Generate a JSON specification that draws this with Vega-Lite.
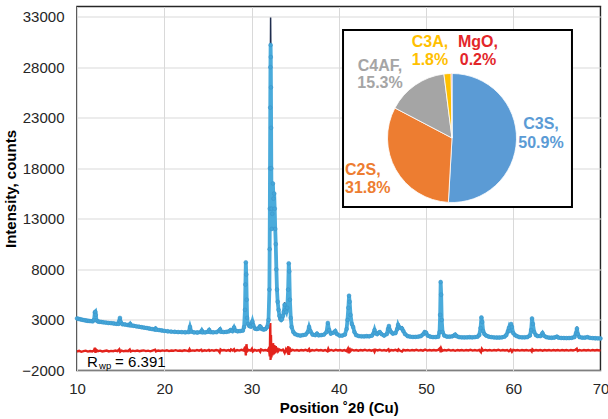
{
  "$schema": "https://vega.github.io/schema/vega-lite/v6.json",
  "width": 523.5,
  "height": 364,
  "autosize": "none",
  "padding": {"left": 77, "top": 6.5, "right": 7.5, "bottom": 48.5},
  "background": "white",
  "config": {
    "view": {"stroke": "#262626", "strokeWidth": 1.5},
    "font": "Liberation Sans",
    "text": {"font": "Liberation Sans"}
  },
  "datasets": {
    "xrd": [
      {"t":10.0,"o":3150,"c":3150},{"t":10.2,"o":3100,"c":3100},{"t":10.4,"o":3060,"c":3060},{"t":10.6,"o":3020,"c":3020},
      {"t":10.8,"o":2980,"c":2980},{"t":11.0,"o":2950,"c":2950},{"t":11.2,"o":2920,"c":2920},{"t":11.4,"o":2900,"c":2900},
      {"t":11.6,"o":2880,"c":2880},{"t":11.8,"o":2870,"c":2870},{"t":11.95,"o":3000,"c":3000},{"t":12.05,"o":3750,"c":3800},
      {"t":12.1,"o":3800,"c":3850},{"t":12.15,"o":3500,"c":3450},{"t":12.25,"o":2950,"c":2950},{"t":12.4,"o":2850,"c":2850},
      {"t":12.6,"o":2820,"c":2820},{"t":12.8,"o":2800,"c":2800},{"t":13.0,"o":2770,"c":2770},{"t":13.3,"o":2740,"c":2740},
      {"t":13.6,"o":2700,"c":2700},{"t":13.9,"o":2680,"c":2680},{"t":14.2,"o":2650,"c":2650},{"t":14.5,"o":2620,"c":2620},
      {"t":14.75,"o":2620,"c":2620},{"t":14.85,"o":2900,"c":2950},{"t":14.92,"o":3200,"c":3180},{"t":15.0,"o":2800,"c":2800},
      {"t":15.2,"o":2580,"c":2580},{"t":15.5,"o":2550,"c":2550},{"t":15.8,"o":2500,"c":2500},{"t":16.0,"o":2480,"c":2480},
      {"t":16.1,"o":2600,"c":2650},{"t":16.2,"o":2460,"c":2460},{"t":16.5,"o":2420,"c":2420},{"t":16.8,"o":2370,"c":2370},
      {"t":17.1,"o":2330,"c":2330},{"t":17.4,"o":2280,"c":2280},{"t":17.7,"o":2240,"c":2240},{"t":18.0,"o":2200,"c":2200},
      {"t":18.3,"o":2150,"c":2150},{"t":18.6,"o":2100,"c":2100},{"t":18.9,"o":2060,"c":2060},{"t":19.0,"o":2150,"c":2220},
      {"t":19.1,"o":2040,"c":2040},{"t":19.4,"o":2000,"c":2000},{"t":19.7,"o":1960,"c":1960},{"t":20.0,"o":1920,"c":1920},
      {"t":20.4,"o":1880,"c":1880},{"t":20.8,"o":1850,"c":1850},{"t":21.2,"o":1830,"c":1830},{"t":21.6,"o":1800,"c":1800},
      {"t":22.0,"o":1790,"c":1790},{"t":22.4,"o":1780,"c":1780},{"t":22.8,"o":1800,"c":1800},{"t":22.95,"o":2300,"c":2380},
      {"t":23.1,"o":1850,"c":1850},{"t":23.4,"o":1770,"c":1770},{"t":23.8,"o":1760,"c":1760},{"t":24.2,"o":1800,"c":1800},
      {"t":24.3,"o":1950,"c":2050},{"t":24.4,"o":1780,"c":1780},{"t":24.7,"o":1770,"c":1770},{"t":25.0,"o":1830,"c":1830},
      {"t":25.15,"o":2000,"c":2020},{"t":25.3,"o":1800,"c":1800},{"t":25.6,"o":1780,"c":1780},{"t":26.0,"o":1790,"c":1790},
      {"t":26.3,"o":1950,"c":1950},{"t":26.4,"o":2050,"c":2250},{"t":26.5,"o":1830,"c":1830},{"t":26.8,"o":1800,"c":1800},
      {"t":27.1,"o":1820,"c":1820},{"t":27.4,"o":1870,"c":1870},{"t":27.6,"o":2000,"c":2000},{"t":27.8,"o":1900,"c":1900},
      {"t":28.0,"o":2250,"c":2280},{"t":28.15,"o":1950,"c":1950},{"t":28.4,"o":1880,"c":1880},{"t":28.7,"o":1900,"c":1900},
      {"t":29.0,"o":1950,"c":1950},{"t":29.15,"o":2300,"c":2300},{"t":29.25,"o":4000,"c":4100},{"t":29.3,"o":6500,"c":6500},
      {"t":29.35,"o":8700,"c":8800},{"t":29.4,"o":7500,"c":7400},{"t":29.45,"o":5000,"c":5000},{"t":29.5,"o":3200,"c":3200},
      {"t":29.6,"o":2600,"c":2600},{"t":29.75,"o":2400,"c":2400},{"t":29.9,"o":2350,"c":2350},{"t":30.05,"o":2700,"c":2700},
      {"t":30.1,"o":2850,"c":2900},{"t":30.2,"o":2500,"c":2500},{"t":30.4,"o":2150,"c":2150},{"t":30.6,"o":2100,"c":2100},
      {"t":30.8,"o":2150,"c":2150},{"t":30.95,"o":2350,"c":2350},{"t":31.05,"o":2300,"c":2450},{"t":31.2,"o":2100,"c":2100},
      {"t":31.4,"o":2050,"c":2050},{"t":31.6,"o":2100,"c":2100},{"t":31.8,"o":2300,"c":2300},{"t":31.95,"o":3000,"c":3000},
      {"t":32.05,"o":6000,"c":6200},{"t":32.08,"o":10000,"c":10300},{"t":32.1,"o":14000,"c":14500},{"t":32.12,"o":18000,"c":18800},
      {"t":32.15,"o":24000,"c":25000},{"t":32.17,"o":28000,"c":29500},{"t":32.19,"o":30200,"c":32900},{"t":32.21,"o":29000,"c":30500},
      {"t":32.23,"o":26000,"c":27000},{"t":32.25,"o":22000,"c":22500},{"t":32.27,"o":18000,"c":18500},{"t":32.3,"o":14000,"c":14000},
      {"t":32.32,"o":12000,"c":12000},{"t":32.38,"o":13500,"c":13500},{"t":32.45,"o":16500,"c":16500},{"t":32.52,"o":15000,"c":15000},
      {"t":32.6,"o":15500,"c":15500},{"t":32.66,"o":14000,"c":14000},{"t":32.72,"o":12000,"c":12000},{"t":32.78,"o":10500,"c":10500},
      {"t":32.85,"o":8000,"c":8000},{"t":32.92,"o":6000,"c":6000},{"t":33.0,"o":4800,"c":4800},{"t":33.1,"o":4000,"c":4000},
      {"t":33.2,"o":3400,"c":3400},{"t":33.3,"o":3100,"c":3100},{"t":33.4,"o":3000,"c":3000},{"t":33.5,"o":3100,"c":3100},
      {"t":33.6,"o":3400,"c":3400},{"t":33.7,"o":3800,"c":3800},{"t":33.8,"o":4500,"c":4750},{"t":33.9,"o":4000,"c":4000},
      {"t":34.0,"o":3800,"c":3800},{"t":34.1,"o":4200,"c":4200},{"t":34.2,"o":6000,"c":6000},{"t":34.27,"o":8600,"c":8700},
      {"t":34.33,"o":7800,"c":7800},{"t":34.4,"o":5000,"c":5000},{"t":34.5,"o":3200,"c":3200},{"t":34.6,"o":2300,"c":2300},
      {"t":34.8,"o":1800,"c":1800},{"t":35.0,"o":1600,"c":1600},{"t":35.3,"o":1500,"c":1500},{"t":35.6,"o":1450,"c":1450},
      {"t":35.9,"o":1500,"c":1500},{"t":36.2,"o":1550,"c":1550},{"t":36.45,"o":1800,"c":1800},{"t":36.6,"o":2300,"c":2300},
      {"t":36.75,"o":1900,"c":1900},{"t":37.0,"o":1550,"c":1550},{"t":37.3,"o":1500,"c":1500},{"t":37.5,"o":1650,"c":1650},
      {"t":37.7,"o":1480,"c":1480},{"t":38.0,"o":1500,"c":1500},{"t":38.3,"o":1550,"c":1550},{"t":38.6,"o":1800,"c":1800},
      {"t":38.75,"o":2700,"c":2750},{"t":38.9,"o":2000,"c":2000},{"t":39.1,"o":1650,"c":1650},{"t":39.4,"o":1750,"c":1750},
      {"t":39.6,"o":1900,"c":1900},{"t":39.8,"o":1600,"c":1600},{"t":40.1,"o":1450,"c":1450},{"t":40.4,"o":1450,"c":1450},
      {"t":40.7,"o":1550,"c":1550},{"t":40.9,"o":2100,"c":2100},{"t":41.0,"o":3000,"c":3000},{"t":41.1,"o":4200,"c":4200},
      {"t":41.18,"o":5400,"c":5400},{"t":41.25,"o":4800,"c":4800},{"t":41.35,"o":3500,"c":3500},{"t":41.5,"o":2600,"c":2600},
      {"t":41.65,"o":2300,"c":2300},{"t":41.8,"o":1800,"c":1800},{"t":42.0,"o":1500,"c":1500},{"t":42.3,"o":1400,"c":1400},
      {"t":42.6,"o":1380,"c":1380},{"t":42.9,"o":1370,"c":1370},{"t":43.2,"o":1400,"c":1400},{"t":43.5,"o":1380,"c":1380},
      {"t":43.8,"o":1450,"c":1450},{"t":44.0,"o":1700,"c":1700},{"t":44.1,"o":2000,"c":2150},{"t":44.2,"o":1700,"c":1700},
      {"t":44.4,"o":1600,"c":1600},{"t":44.6,"o":1750,"c":1750},{"t":44.7,"o":1800,"c":1800},{"t":44.9,"o":1600,"c":1600},
      {"t":45.2,"o":1450,"c":1450},{"t":45.5,"o":1600,"c":1600},{"t":45.65,"o":2100,"c":2100},{"t":45.75,"o":2400,"c":2450},
      {"t":45.85,"o":2000,"c":2000},{"t":46.0,"o":1800,"c":1800},{"t":46.2,"o":1650,"c":1650},{"t":46.5,"o":1700,"c":1700},
      {"t":46.7,"o":2100,"c":2100},{"t":46.8,"o":2500,"c":2500},{"t":46.9,"o":2300,"c":2300},{"t":47.1,"o":2200,"c":2200},
      {"t":47.25,"o":2150,"c":2300},{"t":47.4,"o":1900,"c":1900},{"t":47.6,"o":1600,"c":1600},{"t":47.9,"o":1400,"c":1400},
      {"t":48.2,"o":1350,"c":1350},{"t":48.5,"o":1320,"c":1320},{"t":48.8,"o":1330,"c":1330},{"t":49.1,"o":1350,"c":1350},
      {"t":49.4,"o":1400,"c":1400},{"t":49.7,"o":1600,"c":1600},{"t":49.85,"o":1800,"c":1800},{"t":50.0,"o":1750,"c":1750},
      {"t":50.2,"o":1450,"c":1450},{"t":50.5,"o":1350,"c":1350},{"t":50.8,"o":1300,"c":1300},{"t":51.1,"o":1300,"c":1300},
      {"t":51.4,"o":1350,"c":1350},{"t":51.55,"o":1800,"c":1800},{"t":51.62,"o":3500,"c":3500},{"t":51.68,"o":6750,"c":6750},
      {"t":51.74,"o":5500,"c":5500},{"t":51.8,"o":3000,"c":3000},{"t":51.9,"o":1800,"c":1800},{"t":52.1,"o":1450,"c":1450},
      {"t":52.4,"o":1350,"c":1350},{"t":52.7,"o":1350,"c":1350},{"t":53.0,"o":1380,"c":1380},{"t":53.2,"o":1450,"c":1450},
      {"t":53.35,"o":1550,"c":1550},{"t":53.5,"o":1400,"c":1400},{"t":53.8,"o":1300,"c":1300},{"t":54.1,"o":1280,"c":1280},
      {"t":54.4,"o":1270,"c":1270},{"t":54.7,"o":1280,"c":1280},{"t":55.0,"o":1300,"c":1300},{"t":55.3,"o":1280,"c":1280},
      {"t":55.6,"o":1300,"c":1300},{"t":55.9,"o":1350,"c":1350},{"t":56.1,"o":1500,"c":1500},{"t":56.25,"o":2200,"c":2200},
      {"t":56.35,"o":3250,"c":3250},{"t":56.45,"o":2800,"c":2800},{"t":56.55,"o":1900,"c":1900},{"t":56.7,"o":1600,"c":1600},
      {"t":56.9,"o":1450,"c":1450},{"t":57.2,"o":1350,"c":1350},{"t":57.5,"o":1300,"c":1300},{"t":57.8,"o":1270,"c":1270},
      {"t":58.1,"o":1260,"c":1260},{"t":58.4,"o":1260,"c":1260},{"t":58.7,"o":1280,"c":1280},{"t":59.0,"o":1350,"c":1350},
      {"t":59.2,"o":1500,"c":1500},{"t":59.4,"o":1900,"c":1900},{"t":59.5,"o":2200,"c":2200},{"t":59.6,"o":1900,"c":1900},
      {"t":59.75,"o":2600,"c":2600},{"t":59.85,"o":2300,"c":2300},{"t":60.0,"o":1700,"c":1700},{"t":60.2,"o":1500,"c":1500},
      {"t":60.4,"o":1400,"c":1400},{"t":60.7,"o":1300,"c":1300},{"t":61.0,"o":1280,"c":1280},{"t":61.3,"o":1280,"c":1280},
      {"t":61.6,"o":1300,"c":1300},{"t":61.9,"o":1450,"c":1450},{"t":62.05,"o":2000,"c":2000},{"t":62.15,"o":3150,"c":3150},
      {"t":62.25,"o":2600,"c":2600},{"t":62.4,"o":1800,"c":1800},{"t":62.6,"o":1500,"c":1500},{"t":62.8,"o":1400,"c":1400},
      {"t":63.1,"o":1400,"c":1400},{"t":63.35,"o":1700,"c":1700},{"t":63.5,"o":1450,"c":1450},{"t":63.8,"o":1300,"c":1300},
      {"t":64.1,"o":1250,"c":1250},{"t":64.4,"o":1240,"c":1240},{"t":64.7,"o":1260,"c":1260},{"t":65.0,"o":1350,"c":1350},
      {"t":65.2,"o":1250,"c":1250},{"t":65.5,"o":1220,"c":1220},{"t":65.8,"o":1210,"c":1210},{"t":66.1,"o":1200,"c":1200},
      {"t":66.4,"o":1210,"c":1210},{"t":66.7,"o":1230,"c":1230},{"t":67.0,"o":1300,"c":1300},{"t":67.2,"o":1700,"c":1700},
      {"t":67.3,"o":2150,"c":2350},{"t":67.4,"o":1600,"c":1600},{"t":67.6,"o":1300,"c":1300},{"t":67.9,"o":1250,"c":1250},
      {"t":68.2,"o":1250,"c":1250},{"t":68.5,"o":1300,"c":1300},{"t":68.8,"o":1230,"c":1230},{"t":69.1,"o":1200,"c":1200},
      {"t":69.4,"o":1190,"c":1190},{"t":69.7,"o":1180,"c":1180},{"t":70.0,"o":1170,"c":1170}
    ],
    "diff": [
      {"t":10.0,"d":-120},{"t":10.25,"d":-60},{"t":10.5,"d":-150},{"t":10.75,"d":-90},{"t":11.0,"d":-40},{"t":11.25,"d":-130},
      {"t":11.5,"d":-80},{"t":11.75,"d":-110},{"t":11.95,"d":-20},{"t":12.05,"d":250},{"t":12.12,"d":-250},{"t":12.2,"d":60},
      {"t":12.4,"d":-90},{"t":12.65,"d":-40},{"t":12.9,"d":-120},{"t":13.15,"d":-70},{"t":13.4,"d":-30},{"t":13.65,"d":-110},
      {"t":13.9,"d":-60},{"t":14.15,"d":-90},{"t":14.4,"d":-20},{"t":14.65,"d":-80},{"t":14.85,"d":100},{"t":14.95,"d":-150},
      {"t":15.1,"d":-40},{"t":15.35,"d":-100},{"t":15.6,"d":-50},{"t":15.85,"d":-90},{"t":16.05,"d":80},{"t":16.15,"d":-120},
      {"t":16.4,"d":-40},{"t":16.65,"d":-80},{"t":16.9,"d":-20},{"t":17.15,"d":-90},{"t":17.4,"d":-50},{"t":17.65,"d":-10},
      {"t":17.9,"d":-80},{"t":18.15,"d":-40},{"t":18.4,"d":-100},{"t":18.65,"d":-30},{"t":18.95,"d":60},{"t":19.05,"d":-110},
      {"t":19.3,"d":-20},{"t":19.55,"d":-70},{"t":19.8,"d":-10},{"t":20.05,"d":-60},{"t":20.3,"d":0},{"t":20.55,"d":-80},
      {"t":20.8,"d":-30},{"t":21.05,"d":-50},{"t":21.3,"d":10},{"t":21.55,"d":-60},{"t":21.8,"d":-20},{"t":22.05,"d":-70},
      {"t":22.3,"d":0},{"t":22.55,"d":-40},{"t":22.8,"d":-80},{"t":22.9,"d":100},{"t":23.0,"d":-60},{"t":23.25,"d":-10},
      {"t":23.5,"d":-50},{"t":23.75,"d":20},{"t":24.0,"d":-40},{"t":24.25,"d":60},{"t":24.35,"d":-80},{"t":24.6,"d":0},
      {"t":24.85,"d":-50},{"t":25.1,"d":40},{"t":25.2,"d":-60},{"t":25.45,"d":10},{"t":25.7,"d":-40},{"t":25.95,"d":20},
      {"t":26.2,"d":-30},{"t":26.35,"d":-200},{"t":26.45,"d":80},{"t":26.6,"d":-20},{"t":26.85,"d":30},{"t":27.1,"d":-40},
      {"t":27.35,"d":20},{"t":27.55,"d":-60},{"t":27.65,"d":80},{"t":27.85,"d":-20},{"t":28.0,"d":100},{"t":28.1,"d":-80},
      {"t":28.35,"d":20},{"t":28.6,"d":-30},{"t":28.85,"d":40},{"t":29.1,"d":-20},{"t":29.28,"d":350},{"t":29.35,"d":-500},
      {"t":29.42,"d":600},{"t":29.5,"d":-100},{"t":29.65,"d":40},{"t":29.9,"d":-30},{"t":30.05,"d":150},{"t":30.15,"d":-120},
      {"t":30.35,"d":30},{"t":30.6,"d":-40},{"t":30.85,"d":20},{"t":31.0,"d":-150},{"t":31.1,"d":90},{"t":31.35,"d":-20},
      {"t":31.6,"d":30},{"t":31.85,"d":-40},{"t":32.0,"d":200},{"t":32.1,"d":-600},{"t":32.15,"d":2700},{"t":32.19,"d":-950},
      {"t":32.23,"d":1500},{"t":32.28,"d":-700},{"t":32.33,"d":600},{"t":32.4,"d":-500},{"t":32.47,"d":700},{"t":32.55,"d":-400},
      {"t":32.62,"d":500},{"t":32.7,"d":-300},{"t":32.78,"d":400},{"t":32.85,"d":-200},{"t":32.95,"d":250},{"t":33.05,"d":-100},
      {"t":33.2,"d":80},{"t":33.4,"d":-20},{"t":33.6,"d":60},{"t":33.8,"d":-250},{"t":33.95,"d":100},{"t":34.1,"d":-150},
      {"t":34.22,"d":400},{"t":34.3,"d":-450},{"t":34.38,"d":250},{"t":34.5,"d":-60},{"t":34.7,"d":40},{"t":34.95,"d":-30},
      {"t":35.2,"d":20},{"t":35.45,"d":-40},{"t":35.7,"d":30},{"t":35.95,"d":-20},{"t":36.2,"d":40},{"t":36.45,"d":-50},
      {"t":36.6,"d":120},{"t":36.7,"d":-80},{"t":36.95,"d":20},{"t":37.2,"d":-30},{"t":37.45,"d":40},{"t":37.7,"d":-20},
      {"t":37.95,"d":30},{"t":38.2,"d":-40},{"t":38.45,"d":20},{"t":38.7,"d":-100},{"t":38.8,"d":150},{"t":38.9,"d":-40},
      {"t":39.15,"d":30},{"t":39.4,"d":-50},{"t":39.65,"d":40},{"t":39.9,"d":-20},{"t":40.15,"d":30},{"t":40.4,"d":-40},
      {"t":40.65,"d":20},{"t":40.9,"d":-80},{"t":41.05,"d":150},{"t":41.15,"d":-300},{"t":41.22,"d":250},{"t":41.32,"d":-100},
      {"t":41.5,"d":60},{"t":41.75,"d":-30},{"t":42.0,"d":20},{"t":42.25,"d":-40},{"t":42.5,"d":30},{"t":42.75,"d":-20},
      {"t":43.0,"d":40},{"t":43.25,"d":-30},{"t":43.5,"d":20},{"t":43.75,"d":-40},{"t":44.0,"d":30},{"t":44.1,"d":-150},
      {"t":44.2,"d":60},{"t":44.45,"d":-20},{"t":44.7,"d":50},{"t":44.95,"d":-30},{"t":45.2,"d":20},{"t":45.45,"d":-40},
      {"t":45.7,"d":100},{"t":45.8,"d":-90},{"t":46.0,"d":30},{"t":46.25,"d":-20},{"t":46.5,"d":40},{"t":46.75,"d":-60},
      {"t":46.85,"d":90},{"t":47.0,"d":-30},{"t":47.25,"d":-120},{"t":47.4,"d":40},{"t":47.65,"d":-20},{"t":47.9,"d":30},
      {"t":48.15,"d":-30},{"t":48.4,"d":20},{"t":48.65,"d":-20},{"t":48.9,"d":40},{"t":49.15,"d":-30},{"t":49.4,"d":20},
      {"t":49.65,"d":-40},{"t":49.9,"d":60},{"t":50.15,"d":-30},{"t":50.4,"d":20},{"t":50.65,"d":-20},{"t":50.9,"d":30},
      {"t":51.15,"d":-20},{"t":51.4,"d":30},{"t":51.6,"d":200},{"t":51.68,"d":-200},{"t":51.75,"d":150},{"t":51.85,"d":-60},
      {"t":52.1,"d":30},{"t":52.35,"d":-20},{"t":52.6,"d":40},{"t":52.85,"d":-30},{"t":53.1,"d":20},{"t":53.35,"d":-50},
      {"t":53.6,"d":30},{"t":53.85,"d":-20},{"t":54.1,"d":30},{"t":54.35,"d":-30},{"t":54.6,"d":20},{"t":54.85,"d":-20},
      {"t":55.1,"d":40},{"t":55.35,"d":-30},{"t":55.6,"d":20},{"t":55.85,"d":-30},{"t":56.1,"d":30},{"t":56.3,"d":-180},
      {"t":56.4,"d":150},{"t":56.55,"d":-40},{"t":56.8,"d":30},{"t":57.05,"d":-20},{"t":57.3,"d":30},{"t":57.55,"d":-30},
      {"t":57.8,"d":20},{"t":58.05,"d":-20},{"t":58.3,"d":40},{"t":58.55,"d":-30},{"t":58.8,"d":20},{"t":59.05,"d":-20},
      {"t":59.3,"d":30},{"t":59.5,"d":-90},{"t":59.7,"d":60},{"t":59.85,"d":-150},{"t":60.0,"d":40},{"t":60.25,"d":-20},
      {"t":60.5,"d":30},{"t":60.75,"d":-30},{"t":61.0,"d":20},{"t":61.25,"d":-20},{"t":61.5,"d":30},{"t":61.75,"d":-30},
      {"t":62.0,"d":20},{"t":62.12,"d":-120},{"t":62.2,"d":90},{"t":62.35,"d":-30},{"t":62.6,"d":20},{"t":62.85,"d":-20},
      {"t":63.1,"d":30},{"t":63.35,"d":-40},{"t":63.6,"d":20},{"t":63.85,"d":-20},{"t":64.1,"d":30},{"t":64.35,"d":-30},
      {"t":64.6,"d":20},{"t":64.85,"d":-20},{"t":65.1,"d":30},{"t":65.35,"d":-30},{"t":65.6,"d":20},{"t":65.85,"d":-20},
      {"t":66.1,"d":30},{"t":66.35,"d":-30},{"t":66.6,"d":20},{"t":66.85,"d":-20},{"t":67.1,"d":30},{"t":67.28,"d":150},
      {"t":67.38,"d":-60},{"t":67.6,"d":20},{"t":67.85,"d":-30},{"t":68.1,"d":20},{"t":68.35,"d":-20},{"t":68.6,"d":30},
      {"t":68.85,"d":-30},{"t":69.1,"d":20},{"t":69.35,"d":-20},{"t":69.6,"d":30},{"t":69.85,"d":-20},{"t":70.0,"d":10}
    ],
    "phases": [
      {"name":"C3S","pct":50.9,"ord":1},
      {"name":"C2S","pct":31.8,"ord":2},
      {"name":"C4AF","pct":15.3,"ord":3},
      {"name":"C3A","pct":1.8,"ord":4},
      {"name":"MgO","pct":0.2,"ord":5}
    ],
    "fit": [{"rwp": 6.391}]
  },
  "layer": [
    {
      "data": {"name": "diff"},
      "mark": {"type": "line", "color": "#E3231C", "strokeWidth": 2.4},
      "encoding": {
        "x": {"field": "t", "type": "quantitative",
          "scale": {"domain": [10, 70], "nice": false, "zero": false},
          "axis": {"values": [10, 20, 30, 40, 50, 60, 70], "title": "Position ˚2θ (Cu)",
            "grid": true, "gridColor": "#D9D9D9", "gridWidth": 1, "ticks": false, "domain": false,
            "labelFontSize": 15, "labelColor": "#262626", "labelPadding": 11, "labelFlush": false, "labelOverlap": false,
            "titleFontSize": 15, "titleFontWeight": "bold", "titleColor": "#000000", "titlePadding": 4}},
        "y": {"field": "d", "type": "quantitative",
          "scale": {"domain": [-2000, 34000], "nice": false, "zero": false},
          "axis": {"values": [-2000, 3000, 8000, 13000, 18000, 23000, 28000, 33000], "format": "d", "title": "Intensity, counts",
            "grid": true, "gridColor": "#D9D9D9", "gridWidth": 1, "ticks": false, "domain": false,
            "labelFontSize": 15, "labelColor": "#262626", "labelPadding": 13, "labelOverlap": false,
            "titleFontSize": 15, "titleFontWeight": "bold", "titleColor": "#000000", "titlePadding": 3}}
      }
    },
    {
      "data": {"name": "xrd"},
      "mark": {"type": "line", "color": "#1F2D4E", "strokeWidth": 1.5},
      "encoding": {
        "x": {"field": "t", "type": "quantitative"},
        "y": {"field": "c", "type": "quantitative"}
      }
    },
    {
      "data": {"name": "xrd"},
      "mark": {"type": "line", "color": "#4AABDB", "strokeWidth": 3.8},
      "encoding": {
        "x": {"field": "t", "type": "quantitative"},
        "y": {"field": "o", "type": "quantitative"}
      }
    },
    {
      "data": {"name": "xrd"},
      "mark": {"type": "point", "filled": true, "size": 15, "color": "#44A6D8", "opacity": 1, "stroke": "#3A92C8", "strokeWidth": 0.5},
      "encoding": {
        "x": {"field": "t", "type": "quantitative"},
        "y": {"field": "o", "type": "quantitative"}
      }
    },
    {
      "data": {"name": "fit"},
      "mark": {"type": "rect", "fill": "white", "stroke": "#000000", "strokeWidth": 2},
      "encoding": {
        "x": {"datum": 40.49, "type": "quantitative"},
        "x2": {"datum": 66.73},
        "y": {"datum": 31675, "type": "quantitative"},
        "y2": {"datum": 14170}
      }
    },
    {
      "data": {"name": "phases"},
      "mark": {"type": "arc", "outerRadius": 64.5, "stroke": "white", "strokeWidth": 0.8},
      "encoding": {
        "x": {"datum": 52.98, "type": "quantitative"},
        "y": {"datum": 20994, "type": "quantitative"},
        "theta": {"field": "pct", "type": "quantitative", "stack": true},
        "order": {"field": "ord", "type": "quantitative"},
        "color": {"field": "name", "type": "nominal", "legend": null,
          "scale": {"domain": ["C3S", "C2S", "C4AF", "C3A", "MgO"], "range": ["#5B9BD5", "#ED7D31", "#A5A5A5", "#FFC000", "#E3262A"]}}
      }
    },
    {
      "data": {"name": "phases"},
      "transform": [{"filter": "datum.name === 'C3S'"}, {"calculate": "datum.name + ',\\n' + format(datum.pct, '.1f') + '%'", "as": "lab"}],
      "mark": {"type": "text", "lineBreak": "\n", "fontSize": 16, "fontWeight": "bold", "align": "center", "baseline": "middle", "lineHeight": 18.5},
      "encoding": {
        "x": {"datum": 63.18, "type": "quantitative"},
        "y": {"datum": 22379, "type": "quantitative"},
        "text": {"field": "lab"},
        "color": {"field": "name", "type": "nominal", "legend": null}
      }
    },
    {
      "data": {"name": "phases"},
      "transform": [{"filter": "datum.name === 'C2S'"}, {"calculate": "datum.name + ',\\n' + format(datum.pct, '.1f') + '%'", "as": "lab"}],
      "mark": {"type": "text", "lineBreak": "\n", "fontSize": 16, "fontWeight": "bold", "align": "left", "baseline": "middle", "lineHeight": 18.5},
      "encoding": {
        "x": {"datum": 40.72, "type": "quantitative"},
        "y": {"datum": 17879, "type": "quantitative"},
        "text": {"field": "lab"},
        "color": {"field": "name", "type": "nominal", "legend": null}
      }
    },
    {
      "data": {"name": "phases"},
      "transform": [{"filter": "datum.name === 'C4AF'"}, {"calculate": "datum.name + ',\\n' + format(datum.pct, '.1f') + '%'", "as": "lab"}],
      "mark": {"type": "text", "lineBreak": "\n", "fontSize": 16, "fontWeight": "bold", "align": "center", "baseline": "middle", "lineHeight": 17},
      "encoding": {
        "x": {"datum": 44.73, "type": "quantitative"},
        "y": {"datum": 28066, "type": "quantitative"},
        "text": {"field": "lab"},
        "color": {"field": "name", "type": "nominal", "legend": null}
      }
    },
    {
      "data": {"name": "phases"},
      "transform": [{"filter": "datum.name === 'C3A'"}, {"calculate": "datum.name + ',\\n' + format(datum.pct, '.1f') + '%'", "as": "lab"}],
      "mark": {"type": "text", "lineBreak": "\n", "fontSize": 16, "fontWeight": "bold", "align": "center", "baseline": "middle", "lineHeight": 18.5},
      "encoding": {
        "x": {"datum": 50.46, "type": "quantitative"},
        "y": {"datum": 30538, "type": "quantitative"},
        "text": {"field": "lab"},
        "color": {"field": "name", "type": "nominal", "legend": null}
      }
    },
    {
      "data": {"name": "phases"},
      "transform": [{"filter": "datum.name === 'MgO'"}, {"calculate": "datum.name + ',\\n' + format(datum.pct, '.1f') + '%'", "as": "lab"}],
      "mark": {"type": "text", "lineBreak": "\n", "fontSize": 16, "fontWeight": "bold", "align": "center", "baseline": "middle", "lineHeight": 18.5},
      "encoding": {
        "x": {"datum": 55.96, "type": "quantitative"},
        "y": {"datum": 30538, "type": "quantitative"},
        "text": {"field": "lab"},
        "color": {"field": "name", "type": "nominal", "legend": null}
      }
    },
    {
      "data": {"name": "fit"},
      "mark": {"type": "text", "text": "R", "fontSize": 15, "color": "#000000", "align": "left", "baseline": "alphabetic"},
      "encoding": {
        "x": {"datum": 11.15, "type": "quantitative"},
        "y": {"datum": -1650, "type": "quantitative"}
      }
    },
    {
      "data": {"name": "fit"},
      "mark": {"type": "text", "text": "wp", "fontSize": 9.5, "color": "#000000", "align": "left", "baseline": "alphabetic", "dx": 12, "dy": 2},
      "encoding": {
        "x": {"datum": 11.15, "type": "quantitative"},
        "y": {"datum": -1650, "type": "quantitative"}
      }
    },
    {
      "data": {"name": "fit"},
      "mark": {"type": "text", "text": "=", "fontSize": 15, "color": "#000000", "align": "left", "baseline": "alphabetic", "dx": 28},
      "encoding": {
        "x": {"datum": 11.15, "type": "quantitative"},
        "y": {"datum": -1650, "type": "quantitative"}
      }
    },
    {
      "data": {"name": "fit"},
      "mark": {"type": "text", "fontSize": 15, "color": "#000000", "align": "left", "baseline": "alphabetic", "dx": 41},
      "encoding": {
        "x": {"datum": 11.15, "type": "quantitative"},
        "y": {"datum": -1650, "type": "quantitative"},
        "text": {"field": "rwp", "type": "quantitative", "format": ".3f"}
      }
    }
  ]
}
